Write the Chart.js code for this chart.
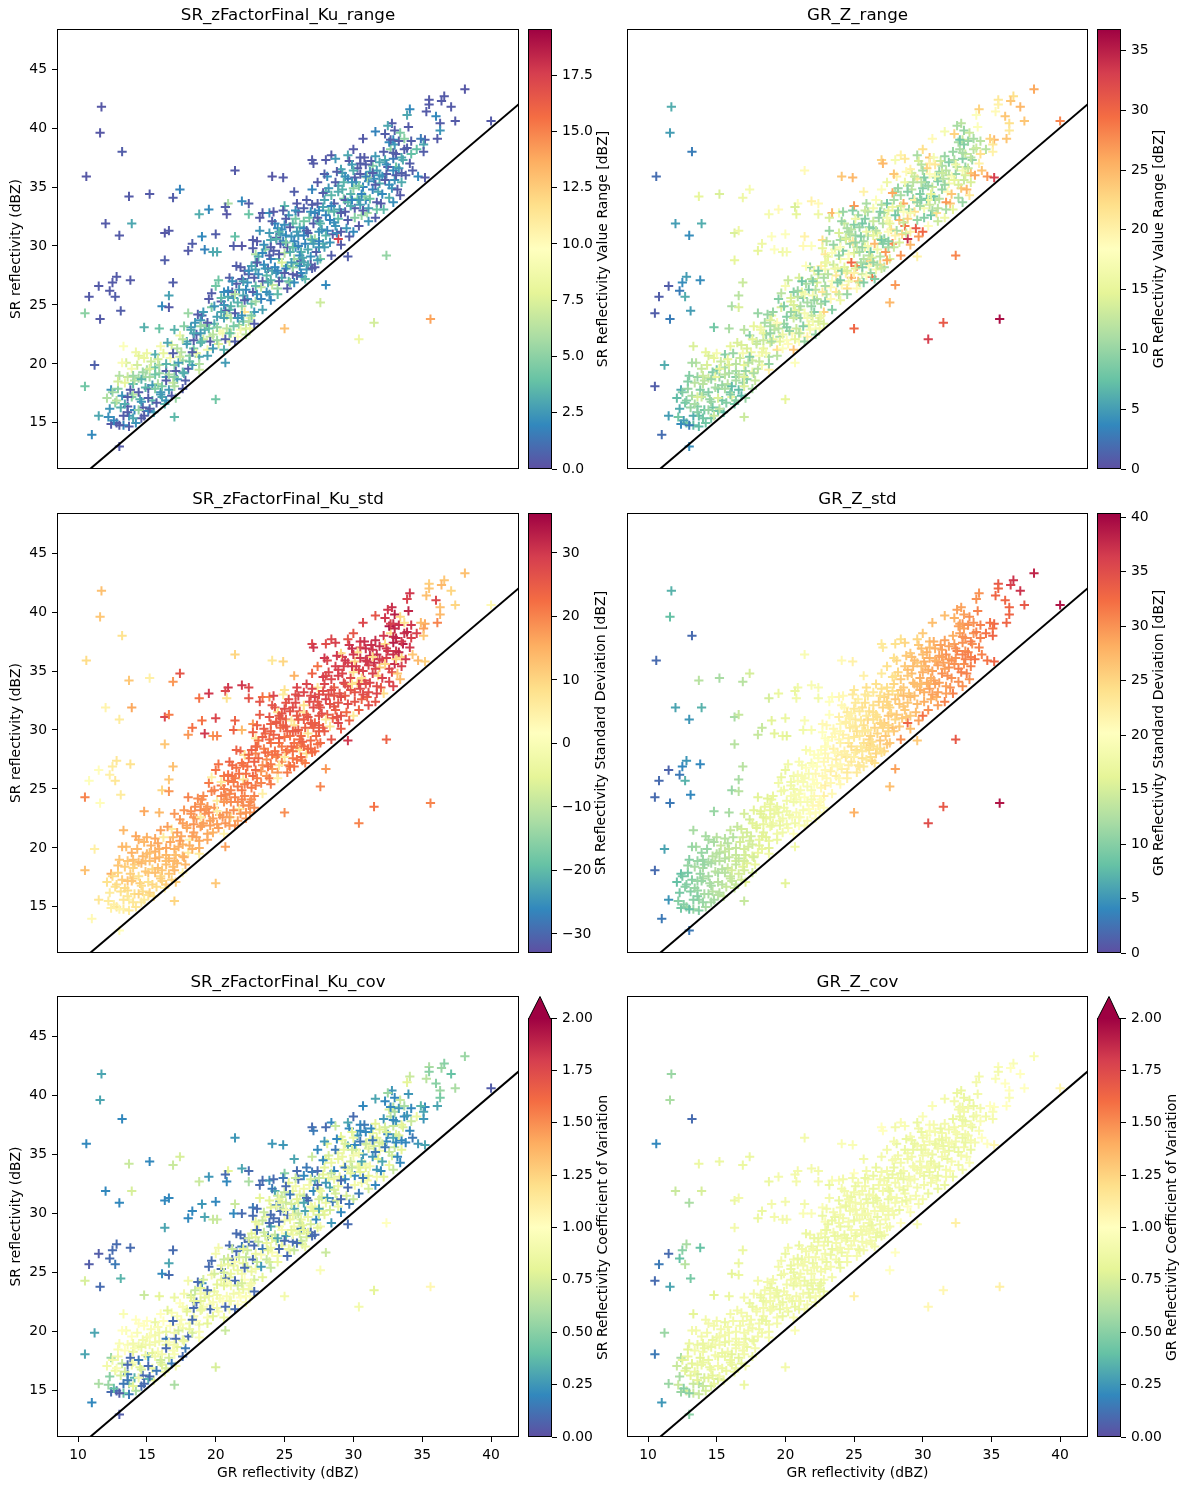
<!DOCTYPE html>
<html>
<head>
<meta charset="utf-8">
<title>SR vs GR reflectivity</title>
<script src="https://cdn.jsdelivr.net/npm/chart.js@4"></script>
<style>
body { margin: 0; background: #fff; }
canvas { position: absolute; }
</style>
</head>
<body>
<script>
const grZ = [
11.7,11.6,13.2,10.6,21.4,24.1,24.9,17.4,16.9,15.2,
13.7,12.0,13.9,13.0,16.3,16.6,16.3,18.8,19.5,20.9,
20.7,20.8,21.9,22.4,22.4,23.4,23.9,25.0,19.0,18.3,
18.0,19.2,20.0,19.8,20.1,21.4,21.3,21.9,22.7,22.9,
12.8,11.5,12.5,12.3,13.8,10.8,12.7,16.9,16.6,16.1,
16.6,13.1,10.5,11.6,14.8,15.9,11.2,13.3,10.5,12.4,
11.5,11.0,13.0,20.0,17.0,20.7,25.0,35.6,30.4,31.5,
32.4,27.6,28.0,28.9,29.6,28.4,29.1,27.4,27.0,25.7,
38.1,36.6,36.4,35.5,35.5,37.1,35.3,34.1,33.9,36.0,
37.4,40.0,36.3,32.8,32.5,34.0,36.3,33.0,31.6,32.3,
33.4,36.1,35.2,34.9,34.2,35.1,33.7,32.9,30.7,30.0,
29.6,30.5,28.4,27.0,27.1,28.0,28.7,29.7,30.5,32.2,
32.7,33.1,33.7,34.2,33.6,34.1,34.3,34.7,35.2,33.4,
32.0,33.0,33.3,33.5,32.6,32.9,33.9,33.1,32.3,32.7,
28.1,28.6,29.2,29.8,30.3,30.9,31.4,31.9,32.4,32.8,
28.3,28.9,29.4,29.9,30.6,31.1,31.7,32.2,33.0,33.5,
28.0,28.7,29.3,30.1,30.7,31.2,31.8,32.5,31.0,30.2,
27.9,28.4,29.0,29.6,30.4,30.8,31.5,29.1,31.3,30.0,
28.2,28.8,29.5,30.0,30.5,29.2,31.6,32.1,28.5,29.8,
31.9,30.3,29.7,31.4,28.9,30.9,32.6,33.2,27.8,31.0,
30.7,29.4,28.6,31.7,30.1,32.9,33.8,34.6,35.1,33.3,
23.2,23.8,24.3,24.8,25.3,25.9,26.4,26.9,27.4,27.8,
23.4,24.0,24.5,25.1,25.6,26.1,26.6,27.1,27.6,28.0,
23.1,23.7,24.2,24.7,25.2,25.7,26.2,26.7,27.2,27.7,
23.5,24.1,24.6,25.0,25.5,26.0,26.5,27.0,27.5,26.3,
23.0,23.6,24.4,24.9,25.4,25.8,26.8,27.3,27.9,24.0,
23.3,23.9,24.7,25.3,25.9,26.4,26.9,27.5,25.6,24.4,
22.9,24.2,25.0,25.7,26.2,26.7,27.2,27.8,24.8,26.0,
23.7,24.5,25.2,25.8,26.6,27.4,23.2,24.1,26.1,27.0,
19.2,19.7,20.2,20.6,21.1,21.5,22.0,22.4,22.8,21.8,
19.4,19.9,20.4,20.8,21.3,21.7,22.2,22.6,20.0,21.0,
19.0,19.6,20.1,20.5,21.0,21.4,21.9,22.3,22.7,22.5,
19.3,19.8,20.3,20.7,21.2,21.6,22.1,22.6,22.9,20.9,
18.9,19.5,20.6,21.1,21.8,22.3,22.8,22.1,21.5,20.2,
19.1,19.7,20.4,21.0,21.7,22.4,22.9,21.2,22.0,20.8,
15.2,15.6,16.0,16.4,16.8,17.2,17.6,18.0,18.4,18.8,
15.4,15.8,16.2,16.6,17.0,17.4,17.8,18.2,18.6,18.9,
15.1,15.5,15.9,16.3,16.7,17.1,17.5,17.9,18.3,18.7,
15.3,15.7,16.1,16.5,16.9,17.3,17.7,18.1,18.5,15.0,
15.6,16.0,16.4,16.8,17.2,17.6,18.0,18.4,18.8,17.0,
12.2,12.5,12.8,13.1,13.4,13.7,14.0,14.3,14.6,14.9,
12.4,12.7,13.0,13.3,13.6,13.9,14.2,14.5,14.8,13.5,
12.1,12.6,12.9,13.2,13.8,14.1,14.4,14.7,15.0,13.7,
12.9,13.3,13.6,14.0,14.4,14.7,12.3,13.0,14.2,15.1,
13.4,13.9,14.4,14.9,15.4,15.9,16.4,16.9,17.4,17.9,
18.4,18.9,19.4,19.9,20.4,20.9,21.4,21.9,22.4,22.9,
23.4,23.9,24.4,24.9,25.4,25.9,26.4,26.9,27.4,27.9,
28.4,28.9,29.4,29.9,30.4,30.9,31.4,31.9,32.4,32.9,
13.6,14.1,14.6,15.1,15.6,16.1,16.6,17.1,17.6,18.1,
18.6,19.1,19.6,20.1,20.6,21.1,21.6,22.1,22.6,23.1,
23.6,24.1,24.6,25.1,25.6,26.1,26.6,27.1,27.6,28.1,
28.6,29.1,29.6,30.1,30.6,31.1,31.6,32.1,32.6,33.1,
24.0,24.8,25.6,26.4,27.2,28.0,28.8,29.6,30.4,31.2,
19.0,19.8,20.6,21.4,22.2,23.0,23.8,24.6,25.4,26.2,
22.0,22.7,23.3,23.9,24.5,25.1,25.7,26.3,26.9,27.5,
17.0,17.7,18.3,18.9,19.5,20.1,20.7,21.3,21.9,22.5,
28.2,28.7,29.3,29.9,30.5,31.1,31.7,32.3,32.9,33.5,
24.3,25.1,25.9,26.7,27.5,28.3,29.1,30.0,30.8,31.6,
14.0,14.6,15.2,15.8,16.4,17.0,17.6,18.2,18.8,19.4,
23.0,23.5,24.0,24.5,25.0,25.5,26.0,26.5,27.0,27.5,
21.0,21.6,22.2,22.8,23.4,24.0,24.6,25.2,25.8,26.4,
12.8,13.2,13.6,14.0,14.4,14.8,15.2,15.6,16.0,16.4
];
const srZ = [
41.8,39.6,38.0,35.9,36.4,35.9,35.8,34.8,34.1,34.4,
34.2,31.9,31.9,30.9,31.1,31.3,28.8,32.7,33.1,33.6,
33.3,32.7,33.8,33.6,32.7,32.8,32.8,33.4,30.8,30.2,
29.6,29.7,31.0,29.5,29.5,30.8,30.0,30.0,30.5,29.3,
27.4,26.6,26.9,26.2,27.1,25.7,25.7,26.9,25.8,24.9,
24.8,24.5,24.3,23.8,23.1,23.0,19.9,21.5,18.1,17.8,
15.6,14.0,13.0,17.0,15.5,20.1,23.0,23.8,22.1,23.5,
29.2,25.2,26.7,30.6,29.1,29.2,30.1,35.4,34.8,34.6,
43.3,42.7,42.3,42.4,42.0,41.8,41.4,41.6,41.1,41.0,
40.6,40.6,40.4,40.4,40.2,40.1,39.8,39.8,39.7,39.5,
39.6,39.1,39.0,39.1,38.9,38.6,39.1,39.0,39.1,38.2,
37.7,37.5,37.7,37.3,37.0,37.3,37.4,37.2,37.0,38.0,
38.2,37.8,38.2,37.8,37.3,37.0,36.4,35.9,35.8,34.3,
33.6,38.6,38.9,37.5,38.8,37.4,38.3,36.7,37.3,39.0,
35.9,33.6,36.2,34.4,36.6,33.9,36.8,35.3,36.1,34.9,
32.2,35.1,32.9,36.9,32.6,35.5,33.7,33.1,35.6,36.2,
34.6,31.7,34.0,33.2,35.0,36.3,34.6,36.7,32.8,35.4,
36.1,34.3,33.1,35.7,31.7,34.2,35.7,36.5,37.2,31.2,
33.0,36.3,31.5,34.9,33.5,34.8,32.4,34.4,31.0,33.4,
36.0,34.0,30.8,34.8,32.3,36.9,35.2,34.8,33.3,35.8,
33.0,35.9,32.9,36.4,35.8,36.4,36.0,38.2,38.0,36.6,
31.3,28.1,31.9,27.3,32.6,28.5,33.2,29.1,33.6,30.2,
27.0,30.5,26.4,30.9,27.6,31.6,28.0,31.9,28.9,32.6,
29.1,26.1,29.6,31.0,28.3,30.4,29.5,31.1,30.6,31.4,
28.4,32.1,28.9,29.4,30.8,32.9,30.2,33.5,32.1,27.4,
30.4,29.7,27.7,33.0,29.5,29.9,32.4,29.5,29.9,28.9,
26.5,31.1,30.2,27.0,33.6,31.5,30.6,31.2,31.9,30.7,
28.0,32.9,31.8,28.9,28.7,29.7,32.8,34.5,28.6,30.9,
27.5,31.5,29.9,32.3,33.9,28.8,32.4,26.7,29.2,30.5,
22.9,24.8,21.7,26.1,22.6,26.8,23.6,27.6,24.4,28.2,
21.2,23.4,25.3,23.0,25.6,23.3,26.3,25.1,26.6,27.3,
24.1,22.3,24.0,22.6,24.6,24.3,24.9,26.9,26.1,23.9,
23.3,21.3,22.8,24.5,27.0,25.2,27.9,28.3,25.3,25.7,
23.7,25.5,21.2,23.9,22.9,25.5,27.3,24.4,28.3,27.1,
22.1,26.0,24.4,21.9,26.3,23.6,26.6,26.1,25.8,24.1,
18.9,20.8,17.6,19.4,21.6,18.7,20.3,19.6,21.3,20.6,
16.9,18.3,20.9,17.8,19.9,22.4,18.6,23.1,22.5,21.8,
17.9,15.9,19.2,16.6,20.5,17.1,21.0,21.9,19.9,24.2,
20.2,16.7,18.1,21.8,18.4,20.1,23.2,20.7,23.5,19.5,
19.7,21.5,18.9,17.3,21.3,19.3,24.3,22.0,19.5,22.9,
15.5,17.6,15.0,16.3,18.4,14.7,17.4,19.9,15.4,18.0,
14.9,16.7,19.0,14.8,16.4,19.6,15.0,17.0,20.5,20.1,
17.1,15.2,17.9,20.1,17.8,16.1,18.8,16.3,20.9,15.6,
18.5,15.6,18.9,18.3,20.7,19.3,16.2,14.8,21.0,16.0,
16.6,17.2,17.6,18.9,18.2,19.9,20.0,20.9,20.6,21.7,
22.6,23.2,23.5,24.9,25.6,26.2,25.9,27.2,27.9,28.6,
29.4,29.2,30.6,30.4,31.6,31.2,32.1,32.9,32.4,33.9,
33.4,34.6,33.9,35.4,35.1,35.9,36.2,37.1,36.9,37.9,
15.9,18.6,16.8,17.1,17.9,17.2,19.1,19.4,22.1,20.2,
20.9,24.4,21.9,23.1,23.9,24.9,22.3,25.4,24.1,27.6,
28.1,27.9,29.3,28.1,29.9,28.3,31.3,30.2,31.9,31.3,
32.0,32.8,33.7,32.4,34.4,33.2,35.2,35.9,34.1,36.0,
29.9,31.4,28.2,30.9,28.2,30.9,31.1,32.2,33.9,34.0,
21.9,22.5,25.0,21.9,23.0,25.9,26.9,27.0,26.9,27.7,
27.0,29.8,25.5,25.9,25.9,32.3,26.9,29.0,28.4,29.9,
18.1,19.2,21.0,22.6,23.0,22.0,22.1,23.2,24.1,23.0,
34.9,35.4,35.4,33.9,36.1,32.1,33.1,35.6,33.7,35.4,
28.2,30.3,27.5,28.4,30.4,30.3,31.2,36.4,37.5,37.6,
19.0,18.7,16.2,20.4,16.9,18.9,17.9,22.9,20.0,20.7,
28.6,30.1,27.1,27.9,27.7,28.6,30.0,27.2,28.1,33.0,
22.6,23.9,22.5,23.4,24.6,25.4,31.2,26.4,33.0,28.6,
16.9,17.3,17.2,15.4,16.1,15.6,19.6,19.1,17.4,18.6
];
const srRange = [
0.3,0.3,0.5,0.3,0.4,0.3,0.4,1.8,0.5,0.4,
0.4,0.4,3.0,0.4,0.3,0.4,0.5,3.2,2.0,5.8,
0.5,0.3,2.0,0.5,4.0,0.4,2.2,3.4,2.0,0.5,
0.4,1.8,0.5,3.0,3.1,3.8,0.5,0.3,0.5,6.0,
0.4,0.4,0.4,0.4,0.4,0.4,0.5,0.5,2.8,2.0,
0.4,0.5,5.0,0.4,3.3,4.0,0.6,9.5,4.2,2.4,
3.0,2.0,0.4,4.2,3.6,2.6,13,14,8.5,7.2,
5.2,7,2,17.5,0.5,0.5,0.4,0.4,1.8,0.5,
0.3,0.4,0.4,0.4,0.4,0.4,0.4,2.0,3.0,2.0,
0.4,0.4,0.5,0.5,3.0,0.4,2.4,0.5,1.8,0.5,
4.5,0.4,0.5,1.5,0.5,3,5,2,0.4,0.4,
3,0.5,0.4,0.4,0.4,0.4,2.5,0.4,0.5,0.5,
5,0.4,0.5,3.8,3.2,0.5,0.5,2,0.4,0.4,
0.4,2.5,0.5,3,2,1.5,0.5,4,3,0.5,
2.2,0.5,2.8,3.4,0.5,2.0,4.6,3.1,0.5,2.4,
1.8,3.0,0.4,2.6,5.2,2.1,0.5,3.6,2.3,0.5,
3.2,2.4,4.4,0.5,1.9,2.7,3.0,0.4,5.6,2.2,
0.6,3.5,2.6,1.7,0.4,4.9,2.1,2.9,0.5,2.0,
3.8,0.5,2.4,5.0,2.8,3.3,0.5,2.0,0.4,3.1,
2.5,4.2,0.5,1.8,3.7,0.5,2.2,0.4,2.9,6.0,
0.4,2.3,3.4,2.6,0.5,2.0,0.5,3.8,0.5,2.5,
2.4,0.5,1.9,3.0,2.6,4.2,0.6,2.2,0.5,3.3,
0.5,2.9,5.4,2.0,0.4,3.5,2.4,0.5,4.1,1.8,
3.1,2.2,0.5,2.7,4.5,1.8,3.3,0.4,5.7,2.5,
2.0,0.5,3.6,6.2,2.3,0.4,1.9,0.5,3.0,2.4,
0.4,4.8,2.5,0.5,3.2,2.1,4.0,0.6,2.7,1.9,
6.4,2.6,0.5,3.4,0.4,2.0,5.1,2.3,3.7,0.5,
2.9,0.4,2.2,5.5,0.5,3.0,1.8,0.5,7.5,2.4,
3.5,2.0,0.5,4.3,0.5,2.6,0.4,6.8,2.1,3.2,
3.0,4.6,7.5,2.2,5.8,0.5,3.5,0.5,2.4,0.4,
8.5,3.2,0.5,6.4,2.6,5.0,2.0,3.8,4.2,0.5,
0.6,6.6,2.8,8.8,3.6,0.5,5.2,2.2,0.5,8.9,
5.5,2.6,9.2,0.5,2.2,3.4,0.5,2.8,5.6,3.1,
2.5,0.4,3.3,5.8,9.0,2.4,0.5,11.5,0.5,4.2,
7.0,0.5,3.0,7.8,2.5,6.2,3.6,0.5,2.9,6.5,
5.8,3.2,2.4,0.5,7.2,2.7,5.5,0.5,4.2,3.0,
3.4,6.0,8.0,2.6,4.8,8.5,0.5,2.4,0.5,3.2,
0.5,2.8,5.2,3.4,9.0,5.4,6.2,3.1,2.6,0.5,
7.0,0.5,4.4,3.0,6.8,2.6,4.8,5.0,2.5,5.8,
4.0,8.8,2.8,0.5,6.2,3.6,5.4,0.5,6.9,3.4,
2.2,5.5,0.5,3.2,8.0,0.5,6.4,7.2,0.5,3.5,
0.4,4.8,6.2,1.8,0.5,9.0,2.3,3.4,8.2,7.4,
6.0,2.0,5.0,9.2,0.5,1.9,5.6,0.5,8.4,2.5,
7.2,0.5,6.8,3.6,7.8,5.5,2.4,0.4,8.5,1.8,
3.2,4.8,0.5,5.6,2.6,6.0,3.4,0.5,7.0,2.8,
3.0,5.2,0.5,2.4,3.6,1.9,6.2,0.5,2.2,3.1,
2.0,0.5,3.4,1.8,0.5,2.6,4.2,2.1,0.5,2.9,
1.9,3.2,0.5,2.4,4.4,1.8,0.5,3.0,2.2,0.5,
0.5,6.2,2.4,0.5,4.6,3.0,5.8,0.5,6.4,3.8,
8.0,2.6,0.5,5.0,2.8,3.4,9.5,0.5,4.6,2.2,
2.4,3.0,0.5,1.9,3.8,2.2,0.5,2.6,3.4,1.8,
2.2,0.5,3.6,4.8,1.9,2.7,0.5,2.3,3.2,0.5,
0.5,2.1,5.2,1.8,0.4,3.4,2.2,0.5,2.6,4.0,
3.6,6.4,2.4,0.5,7.2,2.2,3.0,0.5,4.8,1.9,
2.8,0.5,1.8,2.4,3.6,0.5,2.1,3.0,0.4,2.5,
6.0,3.2,0.5,2.6,3.8,5.4,0.5,4.4,2.2,8.2,
2.5,0.5,3.4,1.9,0.5,2.4,4.0,0.5,2.2,3.1,
2.0,4.6,0.5,3.0,1.8,2.4,0.5,3.2,0.4,2.6,
5.5,3.4,0.5,7.2,2.4,4.8,0.5,3.0,6.0,2.8,
0.5,2.2,3.4,1.9,0.5,2.6,1.8,3.6,0.5,2.0,
4.0,2.4,6.6,0.5,2.8,1.9,3.4,0.5,2.2,3.0,
6.4,2.4,0.5,3.0,5.2,0.5,7.4,4.2,2.6,0.5
];
const grRange = [
6,5,3,2,19,24,25,17,16,14,
15,5,6,4,14,16,15,17,19,18,
14,15,20,19,16,25,17,27,18,16,
15,18,18,16,17,20,19,18,22,21,
5,1,4,3,4,1,6,13,12,11,
14,5,1,3,8,11,6,14,1,6,
5,2,4,15,13,18,30,36,33,31,
28,25,27,34,20,27,25,16,18,20,
26,22,24,21,20,25,19,23,18,24,
24,28,22,12,11,18,21,10,17,23,
13,24,25,23,12,21,11,13,19,22,
11,24,20,23,25,17,21,14,20,10,
11,13,12,22,10,20,24,27,33,21,
24,9,10,12,11,9,13,10,11,8,
20,26,14,9,23,12,11,17,10,24,
25,10,22,12,8,9,27,15,13,24,
11,29,9,17,13,10,19,12,22,9,
24,11,10,21,18,8,12,20,13,30,
10,19,31,9,13,12,16,24,23,11,
12,8,27,10,23,21,14,25,16,9,
11,13,18,12,9,17,26,12,20,13,
10,16,13,26,10,9,17,12,8,28,
18,11,22,10,13,9,17,12,14,8,
15,21,9,12,28,11,8,16,10,22,
13,10,18,14,9,11,25,12,19,29,
12,16,20,9,11,15,10,27,13,17,
19,14,10,24,11,9,13,18,8,12,
17,10,9,12,23,16,11,26,30,10,
21,11,13,9,18,26,14,19,12,8,
12,14,19,9,16,11,17,13,23,10,
22,10,15,13,9,16,12,11,17,14,
15,11,9,19,13,17,10,14,21,16,
13,18,10,15,8,11,16,20,9,12,
14,9,24,10,17,12,11,9,18,13,
16,12,10,18,9,14,11,15,17,10,
10,9,8,11,14,9,13,12,15,11,
8,12,10,7,15,9,13,16,10,14,
9,7,11,8,13,10,16,12,17,10,
13,9,7,14,10,12,15,18,11,8,
11,15,9,7,14,16,10,13,20,12,
8,9,8,10,12,7,10,14,8,11,
4,8,9,7,9,13,8,10,15,12,
7,5,10,11,9,8,13,8,17,7,
9,6,10,12,14,9,6,3,15,8,
11,13,9,15,10,14,12,17,9,13,
15,11,19,9,14,10,17,12,9,15,
18,10,14,21,10,16,13,9,17,11,
14,9,20,12,10,17,13,9,16,11,
9,12,10,14,11,16,12,10,15,13,
17,10,15,9,13,11,20,10,16,12,
16,9,18,14,10,19,12,9,15,11,
13,17,10,9,15,12,10,18,11,14,
18,12,9,15,11,20,13,10,16,12,
11,16,14,10,18,12,9,17,13,10,
9,15,19,13,10,16,9,14,22,11,
14,11,16,10,12,18,15,9,13,17,
10,16,12,9,18,13,11,15,10,14,
15,10,18,12,9,14,20,11,17,10,
13,10,12,15,9,14,11,16,10,12,
16,10,9,14,20,11,17,9,13,15,
12,17,10,14,9,16,11,19,13,10,
9,11,14,8,10,13,15,12,9,11
];
const srStd = [
13,12,8,9,10,7,10,26,18,5,
12,4,16,6,28,21,12,22,30,30,
28,8,30,28,26,22,20,8,22,22,
18,30,28,18,20,24,24,14,18,6,
7,2,6,5,8,1,7,13,12,10,
18,6,20,2,16,14,5,14,13,15,
7,3,2,12,10,17,19,20,20,22,
24,20,18,28,30,26,25,22,24,15,
13,12,14,11,12,10,13,30,29,28,
10,3,13,31,30,32,14,33,26,30,
10,20,16,14,30,17,8,31,28,26,
26,30,28,28,30,27,29,30,28,30,
8,32,31,29,33,30,12,14,11,14,
25,32,31,30,34,33,32,30,9,29,
28,25,29,27,8,26,30,12,29,27,
26,29,25,31,24,28,27,9,31,10,
27,24,28,26,29,31,10,30,25,29,
30,28,26,29,24,28,31,9,31,7,
27,30,23,8,27,28,26,29,24,26,
30,9,24,29,26,31,28,12,27,30,
27,30,26,31,10,31,30,29,12,32,
25,20,26,19,27,21,28,23,7,25,
19,24,18,25,21,26,9,27,23,28,
22,18,24,25,20,8,23,26,24,27,
20,26,22,22,6,28,24,28,27,20,
24,23,19,6,22,24,27,23,25,22,
18,26,23,19,28,6,25,26,27,24,
20,28,27,22,21,8,29,29,21,25,
19,8,24,27,28,22,26,18,23,25,
18,20,17,21,7,22,19,23,20,24,
16,18,21,18,21,6,22,21,22,24,
19,17,6,18,19,20,21,22,23,19,
18,15,18,20,23,21,8,24,21,21,
18,21,4,19,18,22,24,20,24,22,
17,5,20,17,22,19,23,22,7,19,
13,16,9,14,6,14,15,6,17,16,
10,13,6,12,15,18,14,19,18,17,
12,8,14,5,16,11,16,17,15,19,
15,9,12,17,13,15,18,4,19,14,
15,17,13,10,17,14,20,18,6,18,
6,9,7,8,11,6,10,14,6,12,
5,8,12,6,9,15,7,11,14,13,
8,5,10,14,11,8,13,9,15,4,
12,7,12,10,15,14,6,4,16,8,
9,12,8,13,10,15,16,14,17,16,
18,19,18,20,6,22,21,22,23,24,
24,23,25,24,26,25,8,27,26,28,
27,29,27,30,28,30,9,31,30,32,
7,11,9,8,13,10,14,13,17,15,
16,19,17,5,18,20,17,21,19,23,
23,22,24,22,25,7,25,24,26,25,
26,27,27,26,8,27,28,29,28,10,
24,26,22,25,22,6,26,27,28,28,
17,17,20,18,18,21,22,6,22,23,
22,24,20,21,5,26,22,24,23,25,
14,15,17,6,19,17,18,19,20,18,
28,29,29,8,30,27,28,10,28,29,
22,25,22,23,25,7,26,30,31,31,
13,14,10,16,11,14,4,18,15,16,
23,25,21,22,6,23,25,21,23,27,
17,19,18,19,5,21,26,21,27,23,
9,11,12,7,10,6,13,15,11,13
];
const grStd = [
7,8,2,2,19,21,22,15,13,12,
13,6,7,5,12,14,13,15,17,18,
17,18,19,19,18,20,21,23,16,14,
14,16,17,17,16,19,18,19,21,20,
5,1.5,4,3,4,2,7,13,12,11,
13,4,2,3,11,12,6,12,2,8,
5,3,3,16,14,18,28,39,35,34,
34,27,29,33,26,30,27,24,23,22,
38,37,36,34,33,37,33,30,30,33,
34,39,33,29,29,31,33,29,27,28,
30,33,33,32,31,32,30,30,27,26,
25,27,24,23,23,24,25,26,27,28,
29,30,30,31,30,31,31,32,33,30,
30,29,30,31,29,30,31,30,29,29,
25,26,27,28,28,29,29,30,30,31,
26,27,27,27,28,29,29,31,30,31,
24,26,27,28,29,29,30,31,28,28,
24,26,26,26,30,29,29,26,29,32,
25,26,27,28,29,27,31,30,26,28,
29,28,29,30,26,28,31,31,24,29,
29,27,27,30,28,31,32,32,33,31,
20,22,21,23,22,24,23,26,24,27,
21,21,23,23,24,24,25,25,26,26,
20,22,22,22,24,24,25,24,26,25,
22,21,23,23,23,23,25,24,25,25,
21,21,23,23,23,24,25,26,26,22,
22,22,23,23,24,24,25,26,24,22,
21,21,23,24,25,25,25,24,24,25,
22,23,24,24,24,26,20,22,25,25,
17,18,19,18,20,20,21,20,22,20,
18,18,18,19,19,20,21,21,17,19,
17,18,18,19,19,20,19,20,21,21,
18,18,18,19,19,19,20,20,22,19,
17,18,20,19,20,20,21,21,19,18,
18,17,19,20,19,21,21,19,20,19,
13,13,14,14,15,16,15,17,16,17,
13,14,13,15,15,15,17,16,17,18,
12,14,14,14,15,16,15,16,17,16,
14,14,15,14,16,15,16,17,17,13,
14,14,15,15,15,16,16,17,18,15,
10,9,11,10,12,10,12,11,12,13,
9,10,10,11,11,11,12,12,12,12,
8,10,9,11,11,12,12,13,13,11,
11,10,11,12,12,13,9,8,12,13,
11,11,12,13,13,14,14,15,15,16,
16,17,17,18,18,19,19,19,20,21,
21,21,22,22,23,23,24,24,25,25,
26,26,27,27,28,28,29,29,30,30,
10,11,12,13,13,14,14,15,16,16,
16,17,17,18,18,19,19,20,20,21,
21,22,22,23,23,24,24,25,25,26,
26,27,27,28,28,29,29,30,30,31,
21,22,23,24,25,25,26,27,28,29,
17,18,18,19,20,21,21,22,23,24,
20,20,21,21,22,23,23,24,25,25,
15,15,16,17,17,18,18,19,19,20,
25,26,27,27,28,29,29,30,30,31,
22,23,23,24,25,26,26,27,28,29,
11,12,13,13,14,15,15,16,16,17,
20,21,21,22,22,23,23,24,24,25,
19,19,20,20,21,21,22,23,23,24,
10,10,11,11,12,12,13,13,14,14
];
const srCov = [
.3,.3,.2,.2,.25,.25,.25,.75,.7,.2,
.7,.2,.75,.2,.2,.2,.3,.7,.25,.8,
.1,.2,.3,.1,.6,.1,.25,.5,.25,.2,
.2,.3,.2,.7,.7,.7,.2,.1,.15,.8,
.1,.05,.1,.1,.1,.05,.15,.1,.3,.2,
.1,.35,.75,.1,.7,.8,.3,.95,.3,.55,
.6,.2,.05,.75,.6,.7,.9,1.05,.9,.8,
1,.95,.7,.85,.1,.25,.2,.2,.7,.3,
.55,.5,.55,.6,.5,.4,.65,.7,.8,.5,
.6,.05,.55,.25,.55,.25,.45,.2,.3,.2,
.7,.3,.2,.35,.2,.3,.6,.6,.2,.1,
.3,.2,.2,.1,.15,.1,.7,.2,.2,.25,
.65,.25,.2,.7,.75,.2,.15,.25,.3,.2,
.2,.6,.25,.8,.75,.7,.25,.8,.75,.2,
.8,.2,.85,.75,.25,.8,.85,.9,.2,.75,
.3,.85,.2,.8,.9,.75,.25,.8,.7,.2,
.8,.75,.9,.2,.25,.85,.8,.2,.9,.7,
.25,.85,.8,.3,.15,.9,.75,.8,.2,.7,
.85,.2,.75,.9,.8,.85,.2,.3,.15,.8,
.75,.9,.15,.25,.85,.2,.7,.2,.8,.9,
.15,.75,.85,.8,.2,.3,.2,.85,.25,.75,
.8,.15,.3,.85,.8,.9,.2,.75,.1,.85,
.15,.8,.9,.7,.1,.85,.75,.2,.9,.25,
.85,.7,.1,.8,.9,.3,.85,.1,.9,.75,
.7,.15,.85,.9,.75,.1,.3,.15,.8,.75,
.1,.9,.75,.15,.85,.7,.9,.2,.8,.3,
.95,.8,.1,.85,.1,.7,.9,.75,.85,.15,
.8,.1,.7,.9,.15,.85,.3,.2,.95,.75,
.85,.7,.1,.9,.15,.8,.1,.95,.7,.85,
.8,.9,.95,.7,.9,.1,.85,.1,.75,.1,
.95,.85,.1,.95,.8,.9,.7,.85,.9,.1,
.2,.95,.8,1,.85,.1,.9,.7,.1,.95,
.9,.8,.95,.1,.7,.85,.1,.8,.9,.85,
.8,.1,.85,.9,1,.75,.1,1,.1,.9,
.95,.1,.85,.95,.75,.9,.85,.1,.8,.95,
.9,.85,.7,.15,.95,.8,.9,.1,.9,.85,
.85,.95,1,.75,.9,1,.15,.7,.1,.85,
.2,.8,.9,.85,1,.9,.95,.85,.75,.1,
.95,.15,.9,.8,.95,.75,.9,.9,.7,.9,
.9,1,.8,.15,.95,.85,.9,.1,.95,.85,
.55,.9,.1,.75,1,.15,.95,.95,.1,.85,
.1,.85,.95,.4,.15,1,.6,.8,1,.95,
.9,.4,.9,1,.1,.35,.9,.1,1,.55,
.95,.15,.95,.8,1,.9,.5,.05,1,.35,
.75,.85,.15,.9,.8,.9,.85,.1,.95,.8,
.8,.9,.1,.75,.85,.75,.95,.15,.75,.85,
.7,.1,.85,.7,.15,.8,.9,.75,.1,.8,
.7,.85,.15,.75,.9,.7,.15,.8,.75,.2,
.15,.95,.75,.1,.9,.8,.95,.1,.95,.85,
1,.75,.1,.9,.8,.85,1,.1,.9,.7,
.75,.8,.1,.3,.85,.75,.1,.8,.85,.25,
.75,.1,.85,.9,.3,.8,.15,.75,.85,.2,
.1,.7,.9,.3,.1,.85,.75,.1,.8,.9,
.85,.95,.75,.1,.95,.7,.8,.1,.9,.7,
.8,.1,.25,.75,.85,.1,.7,.8,.1,.75,
.95,.85,.1,.8,.85,.9,.1,.9,.75,1,
.75,.15,.85,.7,.15,.75,.9,.15,.7,.8,
.7,.9,.1,.8,.3,.75,.1,.85,.15,.8,
.9,.85,.1,.95,.75,.9,.1,.8,.95,.8,
.1,.7,.85,.3,.1,.8,.7,.85,.1,.7,
.9,.75,.95,.1,.8,.7,.85,.1,.7,.8,
.95,.7,.1,.8,.9,.1,.95,.9,.75,.1
];
const grCov = [
.55,.6,.1,.2,.9,.95,.95,.85,.85,.85,
.85,.7,.75,.6,.85,.9,.9,.85,.9,.9,
.9,.9,.9,.9,.9,.95,.95,1,.9,.85,
.85,.9,.9,.9,.9,.9,.95,.95,.95,.95,
.6,.1,.5,.4,.4,.15,.65,.85,.85,.8,
.85,.45,.1,.3,.8,.85,.55,.8,.15,.6,
.55,.25,.5,.9,.85,.95,1.1,1.1,1.05,1.05,
1.1,1,1,1,.95,1,.95,.9,.9,.9,
.95,.95,1,.95,.9,1,.95,.9,.9,1,
1,1.05,1,.85,.85,.9,.95,.85,.9,.9,
.85,1,1,1,.9,.95,.85,.85,.95,.95,
.85,.95,.95,1,1,.9,.95,.9,.95,.85,
.85,.85,.85,.95,.85,.95,1,1,1.05,.95,
.95,.9,.9,.9,.9,.9,.9,.9,.9,.9,
.85,.92,.85,.9,.92,.85,.9,.85,.9,.92,
.92,.9,.92,.85,.9,.9,.92,.85,.9,.92,
.9,.92,.9,.85,.85,.9,.85,.9,.92,.9,
.92,.9,.9,.92,.85,.9,.85,.92,.85,.92,
.9,.85,.92,.9,.85,.9,.85,.92,.92,.9,
.9,.9,.92,.9,.92,.92,.85,.92,.85,.9,
.9,.85,.85,.9,.9,.85,.92,.9,.92,.9,
.9,.85,.9,.92,.9,.9,.85,.9,.9,.92,
.85,.9,.92,.9,.9,.9,.85,.9,.9,.9,
.85,.92,.9,.9,.92,.9,.9,.85,.9,.92,
.9,.9,.85,.85,.9,.9,.92,.9,.85,.92,
.9,.85,.92,.9,.9,.85,.9,.92,.9,.85,
.85,.85,.9,.92,.9,.9,.9,.85,.9,.9,
.85,.9,.9,.9,.92,.85,.9,.92,.92,.9,
.92,.9,.9,.9,.85,.92,.85,.85,.9,.9,
.9,.85,.85,.9,.85,.9,.85,.9,.92,.9,
.92,.9,.85,.9,.9,.85,.9,.9,.85,.85,
.85,.9,.9,.85,.9,.85,.9,.85,.92,.85,
.9,.85,.9,.85,.9,.9,.85,.92,.9,.9,
.85,.9,.92,.9,.85,.9,.9,.9,.85,.9,
.85,.9,.9,.85,.9,.85,.9,.85,.85,.9,
.9,.85,.85,.9,.9,.85,.9,.9,.9,.9,
.85,.9,.9,.8,.9,.85,.9,.9,.9,.9,
.85,.8,.9,.85,.9,.9,.9,.9,.9,.9,
.9,.85,.8,.9,.9,.9,.9,.9,.9,.85,
.9,.9,.85,.8,.9,.9,.9,.9,.92,.9,
.7,.8,.75,.8,.9,.7,.85,.9,.75,.9,
.55,.8,.85,.7,.75,.9,.75,.85,.9,.9,
.7,.5,.85,.9,.8,.75,.9,.8,.9,.6,
.8,.7,.85,.9,.9,.85,.6,.5,.9,.75,
.85,.85,.85,.9,.85,.9,.9,.9,.9,.9,
.85,.9,.85,.9,.85,.85,.9,.85,.85,.92,
.85,.9,.85,.92,.9,.85,.85,.9,.92,.85,
.85,.9,.92,.85,.9,.85,.85,.9,.92,.85,
.8,.85,.85,.9,.85,.85,.9,.85,.85,.9,
.85,.9,.85,.9,.85,.9,.92,.9,.85,.85,
.85,.9,.92,.85,.9,.92,.85,.9,.85,.9,
.85,.92,.9,.9,.85,.85,.9,.92,.9,.85,
.92,.85,.9,.85,.9,.92,.85,.9,.92,.85,
.9,.85,.85,.9,.92,.85,.9,.92,.85,.9,
.9,.85,.92,.85,.9,.85,.9,.85,.92,.9,
.9,.85,.85,.9,.85,.92,.85,.9,.85,.92,
.9,.85,.85,.9,.92,.85,.9,.85,.9,.85,
.85,.9,.92,.85,.9,.85,.92,.9,.92,.9,
.85,.85,.9,.9,.85,.9,.85,.85,.9,.9,
.85,.9,.9,.85,.92,.9,.92,.9,.85,.85,
.9,.85,.9,.85,.9,.85,.9,.92,.85,.9,
.75,.8,.85,.7,.8,.85,.9,.85,.85,.9
];

const xTicks = [10, 15, 20, 25, 30, 35, 40];
const yTicks = [15, 20, 25, 30, 35, 40, 45];
const xMin = 8.47, xMax = 42.03;
const yMin = 11.09, yMax = 48.4;
const lineGr = [10.8, 42.1];
const lineSr = [11.02, 42.11];

const cbTicksSrRange = [0, 2.5, 5, 7.5, 10, 12.5, 15, 17.5];
const cbTicksGrRange = [0, 5, 10, 15, 20, 25, 30, 35];
const cbTicksSrStd = [-30, -20, -10, 0, 10, 20, 30];
const cbTicksGrStd = [0, 5, 10, 15, 20, 25, 30, 35, 40];
const cbTicksCov = [0, 0.25, 0.5, 0.75, 1, 1.25, 1.5, 1.75, 2];

const spectral = ['#5e4fa2', '#3288bd', '#66c2a5', '#abdda4', '#e6f598', '#ffffbf', '#fee08b', '#fdae61', '#f46d43', '#d53e4f', '#9e0142'];

Chart.defaults.font.family = '"DejaVu Sans"';
Chart.defaults.font.size = 13.9;
Chart.defaults.color = '#000';

function hexToRgb(h) {
    return [parseInt(h.slice(1, 3), 16), parseInt(h.slice(3, 5), 16), parseInt(h.slice(5, 7), 16)];
}

function valueColor(v, min, max) {
    let t = (v - min) / (max - min) * 10;
    t = Math.max(0, Math.min(10, t));
    const i = Math.min(9, Math.floor(t));
    const a = hexToRgb(spectral[i]), b = hexToRgb(spectral[i + 1]);
    const f = t - i;
    return `rgb(${a.map((c, k) => Math.round(c + (b[k] - c) * f)).join(',')})`;
}

function addCanvas(left, top, width, height) {
    const c = document.createElement('canvas');
    c.width = width;
    c.height = height;
    c.style.left = left + 'px';
    c.style.top = top + 'px';
    c.style.width = width + 'px';
    c.style.height = height + 'px';
    document.body.appendChild(c);
    return c;
}

// no extra room for end tick labels, the area has to sit at fixed pixels
function fixScale(s, size) {
    if (s.isHorizontal()) {
        s.height = size;
    } else {
        s.width = size;
    }
    s.paddingTop = 0;
    s.paddingBottom = 0;
    s.paddingLeft = 0;
    s.paddingRight = 0;
}

// axes frame, matplotlib style
const framePlugin = {
    id: 'frame',
    afterDraw(chart) {
        const a = chart.chartArea, ctx = chart.ctx;
        ctx.save();
        ctx.strokeStyle = '#000';
        ctx.lineWidth = 1;
        ctx.strokeRect(Math.round(a.left) + 0.5, Math.round(a.top) + 0.5, Math.round(a.right - a.left) - 1, Math.round(a.bottom - a.top) - 1);
        ctx.restore();
    }
};

function drawPanel(left, top, height, title, values, vMin, vMax, showX, showY) {
    const width = showY ? 519 : 461;
    const canvas = addCanvas(left, top, width, height);
    new Chart(canvas, {
        type: 'scatter',
        data: {
            datasets: [{
                type: 'line',
                data: lineGr.map((x, i) => ({ x: x, y: lineSr[i] })),
                borderColor: '#000',
                borderWidth: 2,
                pointRadius: 0,
                fill: false
            }, {
                data: grZ.map((x, i) => ({ x: x, y: srZ[i] })),
                pointStyle: 'cross',
                pointRadius: 4.6,
                pointBorderWidth: 2,
                pointBorderColor: values.map(v => valueColor(v, vMin, vMax))
            }]
        },
        options: {
            responsive: false,
            animation: false,
            events: [],
            layout: { padding: 0, autoPadding: false },
            plugins: {
                legend: { display: false },
                tooltip: { enabled: false },
                title: {
                    display: true,
                    text: title,
                    fullSize: false,
                    font: { size: 16.67, weight: 'normal' },
                    padding: { top: 6, bottom: 3 }
                }
            },
            scales: {
                x: {
                    type: 'linear',
                    min: xMin,
                    max: xMax,
                    display: showX,
                    afterBuildTicks: s => { s.ticks = xTicks.map(v => ({ value: v })); },
                    afterFit: s => fixScale(s, showX ? 52 : 0),
                    grid: { drawOnChartArea: false, tickLength: 5, tickColor: '#000', tickWidth: 1 },
                    border: { display: false },
                    ticks: { maxRotation: 0, autoSkip: false, padding: 5 },
                    title: { display: true, text: 'GR reflectivity (dBZ)', padding: { top: 0, bottom: 7 } }
                },
                y: {
                    type: 'linear',
                    min: yMin,
                    max: yMax,
                    display: showY,
                    afterBuildTicks: s => { s.ticks = yTicks.map(v => ({ value: v })); },
                    afterFit: s => fixScale(s, showY ? 57 : 0),
                    grid: { drawOnChartArea: false, tickLength: 5, tickColor: '#000', tickWidth: 1 },
                    border: { display: false },
                    ticks: { autoSkip: false, padding: 5 },
                    title: { display: true, text: 'SR reflectivity (dBZ)', padding: { top: 8, bottom: 0 } }
                }
            }
        },
        plugins: [framePlugin]
    });
}

function drawColorbar(left, top, height, label, labelOffset, tickValues, decimals, vMin, vMax, extend) {
    // 10px spare above and below so the end tick labels are not cut off
    const spare = 10;
    const topRoom = extend ? 22 : spare;
    const canvas = addCanvas(left, top - topRoom, 95, height + topRoom + spare);
    const colorbarPlugin = {
        id: 'colorbar',
        beforeDatasetsDraw(chart) {
            const a = chart.chartArea, ctx = chart.ctx;
            const g = ctx.createLinearGradient(0, a.bottom, 0, a.top);
            spectral.forEach((c, i) => g.addColorStop(i / 10, c));
            ctx.save();
            ctx.fillStyle = g;
            ctx.fillRect(a.left, a.top, a.right - a.left, a.bottom - a.top);
            ctx.restore();
        },
        afterDraw(chart) {
            const a = chart.chartArea, ctx = chart.ctx;
            ctx.save();
            if (extend) {
                // over-range arrow, no line between it and the bar
                ctx.fillStyle = spectral[10];
                ctx.beginPath();
                ctx.moveTo(a.left + 0.5, a.top + 1);
                ctx.lineTo((a.left + a.right) / 2, a.top - 21.5);
                ctx.lineTo(a.right - 1.5, a.top + 1);
                ctx.fill();
                ctx.strokeStyle = '#000';
                ctx.lineWidth = 1;
                ctx.stroke();
            }
            ctx.translate(labelOffset, (a.top + a.bottom) / 2);
            ctx.rotate(-Math.PI / 2);
            ctx.font = '14px "DejaVu Sans"';
            ctx.fillStyle = '#000';
            ctx.textAlign = 'center';
            ctx.textBaseline = 'middle';
            ctx.fillText(label, 0, 0);
            ctx.restore();
        }
    };
    new Chart(canvas, {
        type: 'scatter',
        data: { datasets: [{ data: [] }] },
        options: {
            responsive: false,
            animation: false,
            events: [],
            layout: { padding: { top: topRoom, bottom: spare }, autoPadding: false },
            plugins: { legend: { display: false }, tooltip: { enabled: false } },
            scales: {
                x: { display: false, min: 0, max: 1 },
                y: {
                    type: 'linear',
                    position: 'right',
                    min: vMin,
                    max: vMax,
                    afterBuildTicks: s => { s.ticks = tickValues.map(v => ({ value: v })); },
                    afterFit: s => fixScale(s, 95 - 24),
                    grid: { drawOnChartArea: false, tickLength: 5, tickColor: '#000', tickWidth: 1 },
                    border: { display: false },
                    ticks: {
                        autoSkip: false,
                        padding: 5,
                        callback: v => v.toFixed(decimals).replace('-', '\u2212')
                    }
                }
            }
        },
        plugins: [framePlugin, colorbarPlugin]
    });
}

const rowTop = [0, 484, 967];
const rowHeight = [469, 469, 522];

drawPanel(0, rowTop[0], rowHeight[0], 'SR_zFactorFinal_Ku_range', srRange, 0, 19.55, false, true);
drawPanel(627, rowTop[0], rowHeight[0], 'GR_Z_range', grRange, 0, 36.8, false, false);
drawPanel(0, rowTop[1], rowHeight[1], 'SR_zFactorFinal_Ku_std', srStd, -33, 36.3, false, true);
drawPanel(627, rowTop[1], rowHeight[1], 'GR_Z_std', grStd, 0, 40.4, false, false);
drawPanel(0, rowTop[2], rowHeight[2], 'SR_zFactorFinal_Ku_cov', srCov, 0, 2, true, true);
drawPanel(627, rowTop[2], rowHeight[2], 'GR_Z_cov', grCov, 0, 2, true, false);

drawColorbar(528, 29, 440, 'SR Reflectivity Value Range [dBZ]', 75, cbTicksSrRange, 1, 0, 19.55, false);
drawColorbar(1097, 29, 440, 'GR Reflectivity Value Range [dBZ]', 62, cbTicksGrRange, 0, 0, 36.8, false);
drawColorbar(528, 513, 440, 'SR Reflectivity Standard Deviation [dBZ]', 73, cbTicksSrStd, 0, -33, 36.3, false);
drawColorbar(1097, 513, 440, 'GR Reflectivity Standard Deviation [dBZ]', 62, cbTicksGrStd, 0, 0, 40.4, false);
drawColorbar(528, 1018, 419, 'SR Reflectivity Coefficient of Variation', 75, cbTicksCov, 2, 0, 2, true);
drawColorbar(1097, 1018, 419, 'GR Reflectivity Coefficient of Variation', 75, cbTicksCov, 2, 0, 2, true);
</script>
</body>
</html>
